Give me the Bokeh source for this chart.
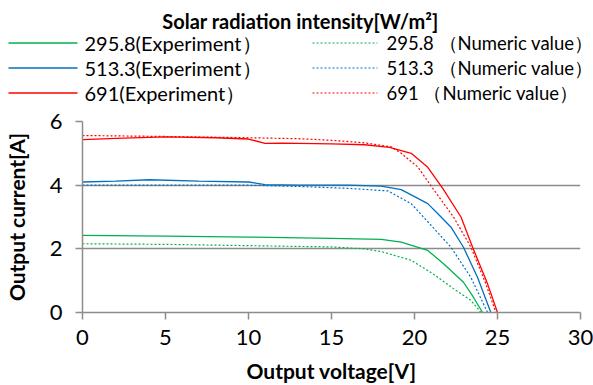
from bokeh.plotting import figure
from bokeh.layouts import column
from bokeh.models import Range1d, FixedTicker
from bokeh.core.properties import value
from bokeh.embed import file_html
from bokeh.resources import INLINE

FONT = "Lato"

# ---- data ----
v_exp_295 = [0, 5, 10, 15, 18, 19.2, 20.8, 21.75, 22.95, 23.55, 24.1]
i_exp_295 = [2.42, 2.4, 2.37, 2.33, 2.3, 2.21, 1.95, 1.53, 0.95, 0.48, 0]
v_num_295 = [0, 5, 10, 15, 17, 18.1, 19.8, 21.1, 22.35, 23.4, 24.0]
i_num_295 = [2.16, 2.14, 2.1, 2.06, 2.0, 1.9, 1.64, 1.22, 0.75, 0.38, 0]

v_exp_513 = [0, 2, 4, 7, 10, 11, 13, 16, 18, 19.2, 20.8, 21.6, 22.2, 22.95, 23.8, 24.6]
i_exp_513 = [4.1, 4.13, 4.17, 4.13, 4.1, 4.02, 4.0, 4.0, 3.97, 3.86, 3.42, 3.0, 2.68, 2.05, 1.1, 0]
v_num_513 = [0, 5, 10, 13, 16, 18.4, 19.8, 21.1, 22.2, 23.4, 24.4]
i_num_513 = [4.0, 4.0, 4.0, 3.96, 3.9, 3.82, 3.42, 2.68, 2.05, 1.1, 0]

v_exp_691 = [0, 2, 5, 8, 10, 11, 12, 15, 17, 18.5, 19.8, 20.8, 21.7, 22.8, 23.5, 24.4, 25.0]
i_exp_691 = [5.43, 5.47, 5.52, 5.49, 5.45, 5.31, 5.32, 5.3, 5.27, 5.19, 5.0, 4.56, 3.9, 3.0, 2.05, 0.9, 0]
v_num_691 = [0, 5, 10, 13, 15, 17, 18.6, 19.2, 20.2, 21.1, 22.35, 23.4, 24.3, 24.9]
i_num_691 = [5.56, 5.53, 5.49, 5.46, 5.41, 5.33, 5.2, 5.0, 4.57, 3.9, 3.0, 2.05, 0.9, 0]

exp_labels = ["295.8(Experiment）", "513.3(Experiment）", "691(Experiment）"]
num_labels = ["295.8 （Numeric value）", "513.3 （Numeric value）", "691 （Numeric value）"]
colors = ["#00b050", "#0070c0", "#ff0000"]
x_ticks = [0, 5, 10, 15, 20, 25, 30]
y_ticks = [0, 2, 4, 6]
legend_title = "Solar radiation intensity[W/m²]"

# ---- legend figure (pixel coordinates) ----
LH = 105
leg = figure(width=593, height=LH, x_range=Range1d(0, 593), y_range=Range1d(LH, 0),
             output_backend="svg", toolbar_location=None, min_border=0)
leg.frame_align = False
leg.axis.visible = False
leg.grid.visible = False
leg.outline_line_color = None

leg.text(x=[300], y=[20], text=[legend_title], text_font=value(FONT), text_font_style="bold",
         text_font_size="20px", text_align="center", text_baseline="middle", text_color="#000000")
rows = [42.5, 67.5, 92.5]
for k in range(3):
    leg.line(x=[8, 77], y=[rows[k], rows[k]], line_color=colors[k], line_width=1.3)
    leg.text(x=[84], y=[rows[k]], text=[exp_labels[k]], text_font=value(FONT),
             text_font_size="20px", text_align="left", text_baseline="middle", text_color="#000000")
    leg.line(x=[312, 377], y=[rows[k], rows[k]], line_color=colors[k], line_width=1.2, line_dash="2 2")
    leg.text(x=[386], y=[rows[k]], text=[num_labels[k]], text_font=value(FONT),
             text_font_size="18.5px", text_align="left", text_baseline="middle", text_color="#000000")

# ---- main figure ----
p = figure(width=593, height=385 - LH, x_range=Range1d(0, 30), y_range=Range1d(0, 6),
           output_backend="svg", toolbar_location=None,
           min_border_left=82, min_border_right=13, min_border_top=121 - LH, min_border_bottom=73)
p.frame_align = False
p.outline_line_color = None
p.xgrid.visible = False
p.ygrid.grid_line_color = "#8c8c8c"
p.ygrid.grid_line_width = 1.5

for ax in (p.xaxis[0], p.yaxis[0]):
    ax.axis_line_color = "#8c8c8c"
    ax.axis_line_width = 1.5
    ax.major_tick_line_color = "#8c8c8c"
    ax.major_tick_line_width = 1.5
    ax.major_tick_out = 7
    ax.major_tick_in = 0
    ax.minor_tick_line_color = None
    ax.major_label_text_font = FONT
    ax.major_label_text_font_size = "22px"
    ax.major_label_text_color = "#000000"
    ax.axis_label_text_font = FONT
    ax.axis_label_text_font_style = "bold"
    ax.axis_label_text_color = "#000000"
    ax.axis_label_text_font_size = "21px"

p.xaxis.ticker = FixedTicker(ticks=x_ticks)
p.yaxis.ticker = FixedTicker(ticks=y_ticks)
p.ygrid.ticker = FixedTicker(ticks=y_ticks)
p.xaxis.major_label_standoff = 10
p.yaxis.major_label_standoff = 13
p.xaxis.axis_label = "Output voltage[V]"
p.yaxis.axis_label = "Output current[A]"
p.xaxis.axis_label_standoff = 10
p.yaxis.axis_label_standoff = 18

p.line(v_num_295, i_num_295, line_color=colors[0], line_width=1.2, line_dash="2 2")
p.line(v_num_513, i_num_513, line_color=colors[1], line_width=1.2, line_dash="2 2")
p.line(v_num_691, i_num_691, line_color=colors[2], line_width=1.2, line_dash="2 2")
p.line(v_exp_295, i_exp_295, line_color=colors[0], line_width=1.3)
p.line(v_exp_513, i_exp_513, line_color=colors[1], line_width=1.3)
p.line(v_exp_691, i_exp_691, line_color=colors[2], line_width=1.3)

layout = column(leg, p, spacing=0)
open("out.html", "w").write(file_html(layout, INLINE))
